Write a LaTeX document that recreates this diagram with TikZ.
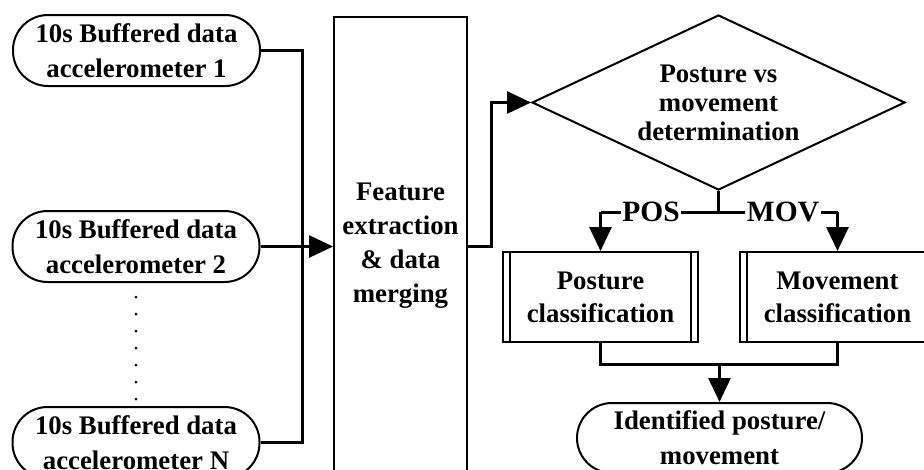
\documentclass[tikz,border=0pt]{standalone}
\usepackage{fontspec}
\setmainfont{Liberation Serif}
\usetikzlibrary{shapes.geometric,arrows.meta}
\begin{document}
\begin{tikzpicture}[x=1pt,y=-1pt,
  txt/.style={font=\fontsize{26.8}{35}\selectfont\bfseries, align=center, inner sep=0pt},
  stad/.style={txt, draw, line width=2pt, rounded corners=35pt, minimum width=247pt, minimum height=71pt},
  featbox/.style={txt, font=\fontsize{26.8}{34}\selectfont\bfseries, draw, line width=2pt, minimum width=133pt, minimum height=458pt},
  decide/.style={txt, font=\fontsize{26.8}{29}\selectfont\bfseries, draw, line width=2pt, shape=diamond, aspect=2.13, minimum width=373pt, minimum height=175pt},
  procbox/.style={txt, font=\fontsize{26.8}{33}\selectfont\bfseries, draw, line width=2pt, minimum width=195pt, minimum height=90pt},
  lbl/.style={font=\fontsize{29.5}{30}\selectfont\bfseries, fill=white, inner sep=1.5pt, text depth=0pt},
  conn/.style={line width=3pt},
  arr/.style={-{Triangle[length=24pt,width=22pt]}}
]
\useasboundingbox (0,0) rectangle (924,469);
\clip (0,0) rectangle (924,469);

% input stadiums
\node[stad] (b1) at (136.5,50.5) {10s Buffered data\\accelerometer 1};
\node[stad] (b2) at (136,246.5) {10s Buffered data\\accelerometer 2};
\node[stad] (bN) at (136,442.5) {10s Buffered data\\accelerometer N};
\foreach \yy in {297,314,...,399} \fill (136,\yy) circle (1.5pt);

% feature extraction
\node[featbox] (feat) at (400.5,246) {Feature\\extraction\\\& data\\merging};

% decision
\node[decide] (dia) at (718.5,102.5) {Posture vs\\movement\\determination};

% classification boxes
\node[procbox] (post) at (600.5,297) {Posture\\classification};
\node[procbox] (mov) at (837.5,297) {Movement\\classification};
\draw[line width=2pt] ([xshift=8pt]post.north west) -- ([xshift=8pt]post.south west);
\draw[line width=2pt] ([xshift=-8pt]post.north east) -- ([xshift=-8pt]post.south east);
\draw[line width=2pt] ([xshift=8pt]mov.north west) -- ([xshift=8pt]mov.south west);
\draw[line width=2pt] ([xshift=-8pt]mov.north east) -- ([xshift=-8pt]mov.south east);

% output
\node[stad, minimum width=285pt, minimum height=70pt] (out) at (719.5,438) {Identified posture/\\movement};

% connectors
\coordinate (bus) at (302,246);
\draw[conn] (b1.east) -| (bus) |- (bN.east);
\draw[conn,arr] (b2.east) -- (b2.east -| feat.west);
\draw[conn,arr] (feat.east) -- ++(23,0) |- (dia.west);

\coordinate (split) at (718.5,212);
\draw[conn] (dia.south) -- (split);
\draw[conn] (post.north |- split) -- (mov.north |- split);
\draw[conn,arr] (post.north |- split) -- (post.north);
\draw[conn,arr] (mov.north |- split) -- (mov.north);
\node[lbl] (poslbl) at (651,212) {POS};
\node[lbl] (movlbl) at (783,212) {MOV};

\coordinate (mjoin) at (718.5,364);
\draw[conn] (post.south) |- (mjoin) -| (mov.south);
\draw[conn,arr] (out.north |- mjoin) -- (out.north);
\end{tikzpicture}
\end{document}
